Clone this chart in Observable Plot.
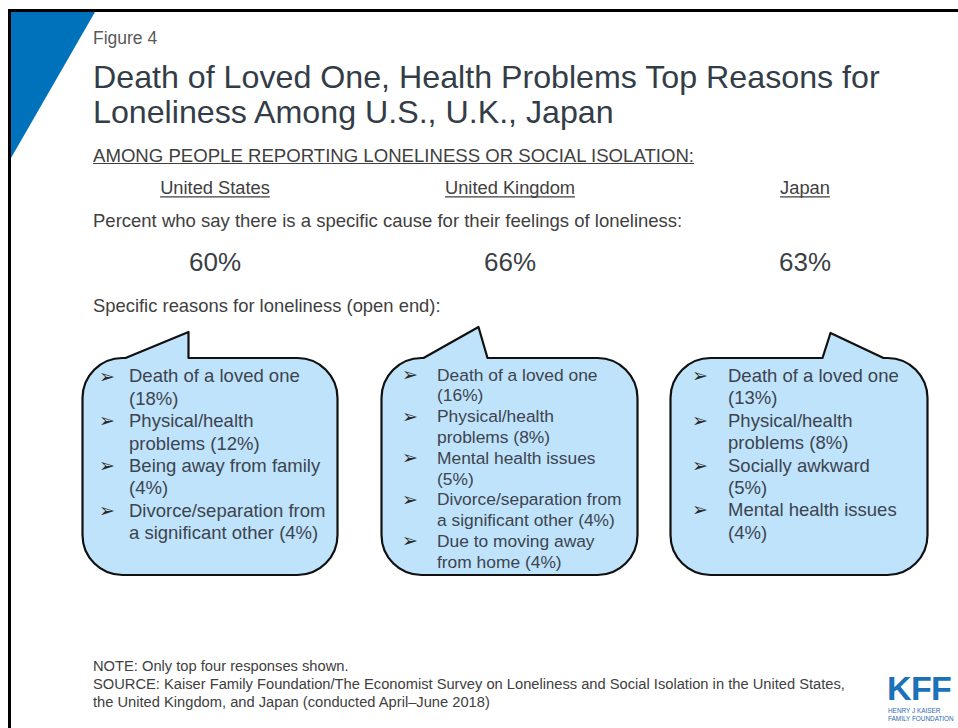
<!DOCTYPE html>
<html>
<head>
<meta charset="utf-8">
<script src="https://cdn.jsdelivr.net/npm/d3@7"></script>
<script src="https://cdn.jsdelivr.net/npm/@observablehq/plot@0.6"></script>
<style>
  html, body { margin: 0; padding: 0; background: #fff; }
  #page { position: relative; width: 958px; height: 728px; overflow: hidden; background: #fff;
          font-family: "Liberation Sans", Arial, sans-serif; color: #404040; }
  .abs { position: absolute; white-space: nowrap; }
  #frame { position: absolute; left: 8px; top: 9px; width: 1000px; height: 800px; border: 3px solid #000; }
  #tri { position: absolute; left: 11px; top: 12px; width: 84px; height: 146px; background: #0072BC;
         clip-path: polygon(0 0, 100% 0, 0 100%); }
  #fig { left: 93px; top: 28px; font-size: 17.5px; line-height: 20px; color: #595959; }
  #title { left: 93px; top: 60px; font-size: 32.2px; line-height: 35px; color: #333D47; }
  #among { left: 93px; top: 146px; font-size: 18.6px; line-height: 20px; text-decoration: underline; }
  #pct { left: 93px; top: 211px; font-size: 18.5px; line-height: 20px; }
  #spec { left: 93px; top: 296px; font-size: 18.4px; line-height: 20px; }
  #notes { left: 93px; top: 657px; font-size: 14.7px; line-height: 18px; }
  #chart { position: absolute; left: 0; top: 170px; }
  #kff { left: 887px; top: 674px; font-size: 34px; line-height: 28px; font-weight: bold; color: #1B72B8; letter-spacing: -0.6px; }
  #kffsub { left: 888px; top: 707px; font-size: 6.4px; line-height: 7.5px; color: #2A6BB0; }
</style>
</head>
<body>
<div id="page">
  <div id="frame"></div>
  <div id="tri"></div>
  <div id="fig" class="abs">Figure 4</div>
  <div id="title" class="abs">Death of Loved One, Health Problems Top Reasons for<br>Loneliness Among U.S., U.K., Japan</div>
  <div id="among" class="abs">AMONG PEOPLE REPORTING LONELINESS OR SOCIAL ISOLATION:</div>
  <div id="pct" class="abs">Percent who say there is a specific cause for their feelings of loneliness:</div>
  <div id="spec" class="abs">Specific reasons for loneliness (open end):</div>
  <div id="chart"></div>
  <div id="notes" class="abs">NOTE: Only top four responses shown.<br>SOURCE: Kaiser Family Foundation/The Economist Survey on Loneliness and Social Isolation in the United States,<br>the United Kingdom, and Japan (conducted April–June 2018)</div>
  <div id="kff" class="abs">KFF</div>
  <div id="kffsub" class="abs">HENRY J KAISER<br>FAMILY FOUNDATION</div>
</div>
<script>
// ---- Data ----
const countries = ["United States", "United Kingdom", "Japan"];
const specificCausePct = [60, 66, 63];

const usReasons = ["Death of a loved one\n", "Physical/health\nproblems", "Being away from family\n", "Divorce/separation from\na significant other"];
const usShares = [18, 12, 4, 4];

const ukReasons = ["Death of a loved one\n", "Physical/health\nproblems", "Mental health issues\n", "Divorce/separation from\na significant other", "Due to moving away\nfrom home"];
const ukShares = [16, 8, 5, 4, 4];

const jpReasons = ["Death of a loved one\n", "Physical/health\nproblems", "Socially awkward\n", "Mental health issues\n"];
const jpShares = [13, 8, 5, 4];

// ---- Layout (positions / styles) ----
const textColor = "#404040";
const bubbleText = "#3C4450";
const bubbleFill = "#BFE3FA";
const layout = {
  "United States":  {left: -132, right: 123, top: 358, bottom: 575, radius: 40, tail: [-89, -26, -26], apexY: 332,
                     bulletDx: -108, textDx: -86, firstLine: 376, lineStep: 22.4, fontSize: 18.5},
  "United Kingdom": {left: -128, right: 128, top: 358, bottom: 575, radius: 40, tail: [-86, -31, -22], apexY: 327,
                     bulletDx: -100, textDx: -73, firstLine: 374.5, lineStep: 20.8, fontSize: 17.4},
  "Japan":          {left: -134, right: 123, top: 358, bottom: 575, radius: 40, tail: [18, 26, 79], apexY: 333,
                     bulletDx: -105, textDx: -77, firstLine: 375.5, lineStep: 22.4, fontSize: 18.5}
};

const fmt = (label, v) => label.endsWith("\n") ? `${label}(${v}%)` : `${label} (${v}%)`;
const reasonSets = [[usReasons, usShares], [ukReasons, ukShares], [jpReasons, jpShares]];
const rows = [];
countries.forEach((c, ci) => {
  const [labels, shares] = reasonSets[ci];
  let line = 0;
  labels.forEach((lab, k) => {
    fmt(lab, shares[k]).split("\n").forEach((t, j) => {
      rows.push({country: c, text: t, line, bullet: j === 0});
      line++;
    });
  });
});

// Speech-bubble shapes, positioned from the band scale
function bubbles(index, scales) {
  const x = scales.x, y = scales.y;
  const bw = x.bandwidth ? x.bandwidth() : 0;
  const g = d3.create("svg:g").attr("aria-label", "bubbles");
  for (const c of countries) {
    const L = layout[c];
    const cx = x(c) + bw / 2;
    const l = cx + L.left, r = cx + L.right, t = y(L.top), b = y(L.bottom), rad = L.radius;
    const [ta, ax, tb] = L.tail.map(o => cx + o);
    const ay = y(L.apexY);
    const p = d3.path();
    p.moveTo(l + rad, t);
    p.lineTo(ta, t); p.lineTo(ax, ay); p.lineTo(tb, t);
    p.lineTo(r - rad, t); p.arcTo(r, t, r, t + rad, rad);
    p.lineTo(r, b - rad); p.arcTo(r, b, r - rad, b, rad);
    p.lineTo(l + rad, b); p.arcTo(l, b, l, b - rad, rad);
    p.lineTo(l, t + rad); p.arcTo(l, t, l + rad, t, rad);
    p.closePath();
    g.append("path").attr("d", p.toString())
      .attr("fill", bubbleFill).attr("stroke", "#111").attr("stroke-width", 2.2)
      .attr("stroke-linejoin", "round");
  }
  return g.node();
}

const reasonMarks = countries.flatMap(c => {
  const L = layout[c];
  const data = rows.filter(d => d.country === c);
  return [
    Plot.text(data.filter(d => d.bullet), {
      x: "country", y: d => L.firstLine + d.line * L.lineStep, text: () => "➢",
      dx: L.bulletDx, textAnchor: "middle", fontSize: 19, fontFamily: "DejaVu Sans", fill: "#2A2A2A"
    }),
    Plot.text(data, {
      x: "country", y: d => L.firstLine + d.line * L.lineStep, text: "text",
      dx: L.textDx, textAnchor: "start", fontSize: L.fontSize, fill: bubbleText
    })
  ];
});

const chart = Plot.plot({
  width: 958,
  height: 420,
  margin: 0,
  x: {type: "band", domain: countries, range: [66, 952], padding: 0, axis: null},
  y: {type: "linear", domain: [170, 590], range: [0, 420], axis: null},
  style: {background: "transparent", fontFamily: "'Liberation Sans', Arial, sans-serif", overflow: "visible"},
  marks: [
    Plot.text(countries, {x: d => d, y: 188, text: d => d, fontSize: 18.3, fill: textColor}),
    Plot.text(countries, {x: d => d, y: 262, text: (d, i) => `${specificCausePct[i]}%`, fontSize: 26, fill: "#3A3F45"}),
    bubbles,
    ...reasonMarks
  ]
});
document.getElementById("chart").appendChild(chart);

// underline the country headers (drawn in each text's own coordinate frame)
d3.select(chart).selectAll("text").filter(function() { return countries.includes(this.textContent); }).each(function() {
  const bb = this.getBBox();
  const tf = this.getAttribute("transform");
  const ln = d3.select(this.parentNode).append("line")
    .attr("x1", bb.x).attr("x2", bb.x + bb.width)
    .attr("y1", bb.y + bb.height - 1.5).attr("y2", bb.y + bb.height - 1.5)
    .attr("stroke", textColor).attr("stroke-width", 1.2);
  if (tf) ln.attr("transform", tf);
});
</script>
</body>
</html>
